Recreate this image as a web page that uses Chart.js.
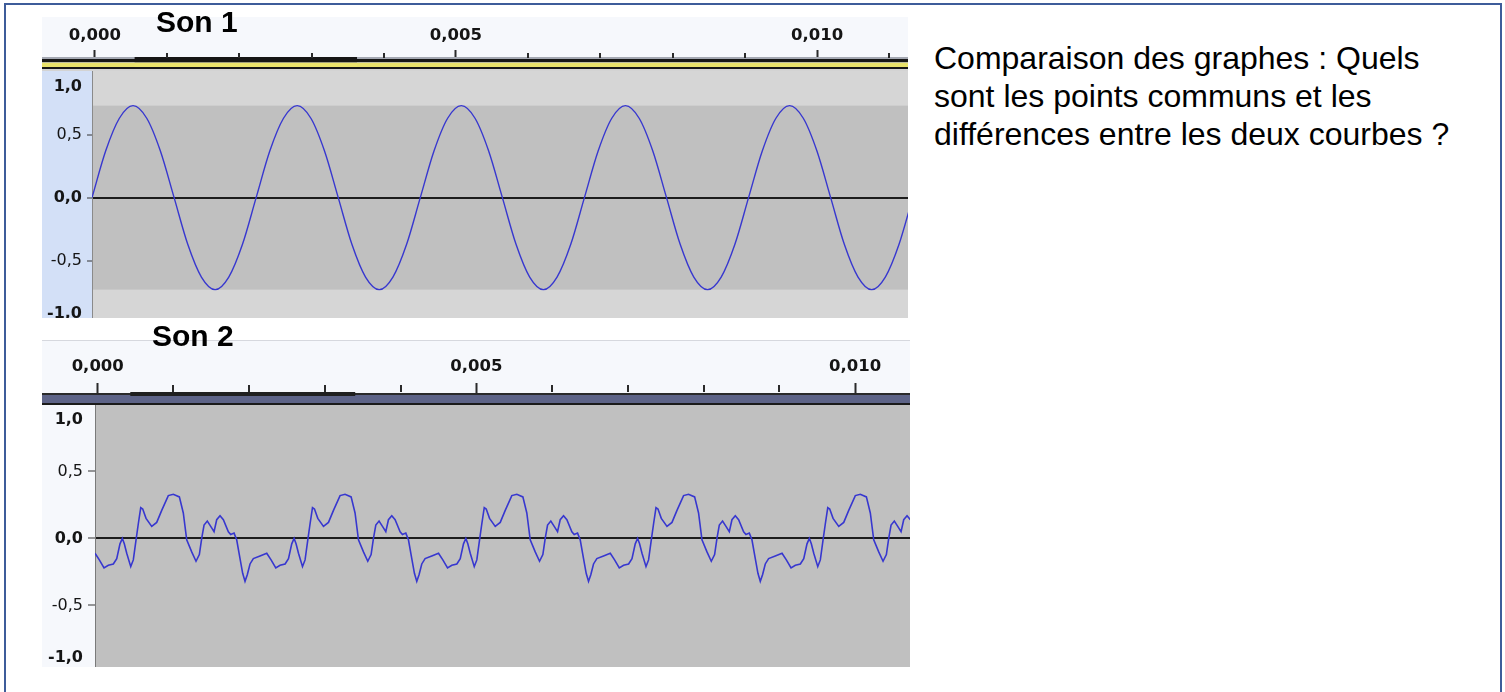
<!DOCTYPE html>
<html><head><meta charset="utf-8">
<script src="https://cdn.jsdelivr.net/npm/chart.js@4.4.1/dist/chart.umd.min.js"></script>
<style>
html,body{margin:0;padding:0;background:#fff;width:1505px;height:692px;overflow:hidden;position:relative;}
#frame{position:absolute;left:4px;top:3px;width:1494px;height:720px;border:2px solid #3e5c9a;box-sizing:content-box;}
canvas{position:absolute;display:block;}
#c1{left:42px;top:17px;}
#c2{left:42px;top:340px;}
.title{position:absolute;font-family:'Liberation Sans',Arial,sans-serif;font-weight:bold;font-size:30px;line-height:30px;color:#000;white-space:nowrap;}
#t1{left:156px;top:7px;}
#t2{left:152px;top:321px;}
#q{position:absolute;left:934px;top:39px;font-family:'Liberation Sans',Arial,sans-serif;font-size:32px;line-height:38px;color:#000;white-space:nowrap;}
</style>
</head><body>
<div id="frame"></div>
<canvas id="c1" width="866" height="301"></canvas>
<canvas id="c2" width="868" height="327"></canvas>
<div class="title" id="t1">Son 1</div>
<div class="title" id="t2">Son 2</div>
<div id="q">Comparaison des graphes : Quels<br>sont les points communs et les<br>différences entre les deux courbes ?</div>
<script>
// ---------------- DATA (time in ms, amplitude -1..1) ----------------
const son1TimeMs = [-0.040, 0.149, 0.339, 0.528, 0.718, 0.907, 1.097, 1.286, 1.475, 1.665, 1.854, 2.044,
  2.233, 2.422, 2.612, 2.801, 2.991, 3.180, 3.370, 3.559, 3.748, 3.938, 4.127, 4.317,
  4.506, 4.696, 4.885, 5.074, 5.264, 5.453, 5.643, 5.832, 6.021, 6.211, 6.400, 6.590,
  6.779, 6.969, 7.158, 7.347, 7.537, 7.726, 7.916, 8.105, 8.294, 8.484, 8.673, 8.863,
  9.052, 9.242, 9.431, 9.620, 9.810, 9.999, 10.189, 10.378, 10.568, 10.757, 10.946, 11.136,
  11.325];
const son1Amp = [0.00, 0.37, 0.63, 0.73, 0.63, 0.37, 0.00, -0.37, -0.63, -0.73, -0.63, -0.37,
  0.00, 0.37, 0.63, 0.73, 0.63, 0.37, 0.00, -0.37, -0.63, -0.73, -0.63, -0.37,
  0.00, 0.37, 0.63, 0.73, 0.63, 0.37, 0.00, -0.37, -0.63, -0.73, -0.63, -0.37,
  0.00, 0.37, 0.63, 0.73, 0.63, 0.37, 0.00, -0.37, -0.63, -0.73, -0.63, -0.37,
  0.00, 0.37, 0.63, 0.73, 0.63, 0.37, 0.00, -0.37, -0.63, -0.73, -0.63, -0.37,
  0.00];

const son2TimeMs = [
  -0.036, 0.021, 0.083, 0.140, 0.206, 0.251, 0.294, 0.325, 0.351, 0.383, 0.436, 0.470, 0.506, 0.536, 0.568, 0.594, 0.638, 0.713, 0.779, 0.845, 0.932, 0.998, 1.078, 1.130, 1.175, 1.241, 1.298, 1.342, 1.373, 1.404, 1.447, 1.492, 1.536, 1.571, 1.615, 1.659, 1.725, 1.756, 1.800, 1.835, 1.879, 1.914, 1.945, 1.975, 2.011, 2.055, 2.143,
  2.232, 2.289, 2.351, 2.408, 2.474, 2.519, 2.562, 2.593, 2.619, 2.651, 2.704, 2.738, 2.774, 2.804, 2.836, 2.862, 2.906, 2.981, 3.047, 3.113, 3.200, 3.266, 3.346, 3.398, 3.443, 3.509, 3.566, 3.610, 3.641, 3.672, 3.715, 3.760, 3.804, 3.839, 3.883, 3.927, 3.993, 4.024, 4.068, 4.103, 4.147, 4.182, 4.213, 4.243, 4.279, 4.323, 4.411,
  4.500, 4.557, 4.619, 4.676, 4.742, 4.787, 4.830, 4.861, 4.887, 4.919, 4.972, 5.006, 5.042, 5.072, 5.104, 5.130, 5.174, 5.249, 5.315, 5.381, 5.468, 5.534, 5.614, 5.666, 5.711, 5.777, 5.834, 5.878, 5.909, 5.940, 5.983, 6.028, 6.072, 6.107, 6.151, 6.195, 6.261, 6.292, 6.336, 6.371, 6.415, 6.450, 6.481, 6.511, 6.547, 6.591, 6.679,
  6.768, 6.825, 6.887, 6.944, 7.010, 7.055, 7.098, 7.129, 7.155, 7.187, 7.240, 7.274, 7.310, 7.340, 7.372, 7.398, 7.442, 7.517, 7.583, 7.649, 7.736, 7.802, 7.882, 7.934, 7.979, 8.045, 8.102, 8.146, 8.177, 8.208, 8.251, 8.296, 8.340, 8.375, 8.419, 8.463, 8.529, 8.560, 8.604, 8.639, 8.683, 8.718, 8.749, 8.779, 8.815, 8.859, 8.947,
  9.036, 9.093, 9.155, 9.212, 9.278, 9.323, 9.366, 9.397, 9.423, 9.455, 9.508, 9.542, 9.578, 9.608, 9.640, 9.666, 9.710, 9.785, 9.851, 9.917, 10.004, 10.070, 10.150, 10.202, 10.247, 10.313, 10.370, 10.414, 10.445, 10.476, 10.519, 10.564, 10.608, 10.643, 10.687, 10.731, 10.797];
const son2Amp = [
  -0.11, -0.16, -0.22, -0.20, -0.19, -0.15, -0.04, 0.00, -0.04, -0.11, -0.21, -0.16, -0.01, 0.11, 0.23, 0.22, 0.15, 0.09, 0.12, 0.21, 0.32, 0.33, 0.31, 0.19, -0.01, -0.10, -0.17, -0.12, 0.00, 0.10, 0.13, 0.09, 0.05, 0.14, 0.17, 0.14, 0.05, 0.03, 0.04, -0.01, -0.15, -0.26, -0.32, -0.27, -0.19, -0.15, -0.13,
  -0.11, -0.16, -0.22, -0.20, -0.19, -0.15, -0.04, 0.00, -0.04, -0.11, -0.21, -0.16, -0.01, 0.11, 0.23, 0.22, 0.15, 0.09, 0.12, 0.21, 0.32, 0.33, 0.31, 0.19, -0.01, -0.10, -0.17, -0.12, 0.00, 0.10, 0.13, 0.09, 0.05, 0.14, 0.17, 0.14, 0.05, 0.03, 0.04, -0.01, -0.15, -0.26, -0.32, -0.27, -0.19, -0.15, -0.13,
  -0.11, -0.16, -0.22, -0.20, -0.19, -0.15, -0.04, 0.00, -0.04, -0.11, -0.21, -0.16, -0.01, 0.11, 0.23, 0.22, 0.15, 0.09, 0.12, 0.21, 0.32, 0.33, 0.31, 0.19, -0.01, -0.10, -0.17, -0.12, 0.00, 0.10, 0.13, 0.09, 0.05, 0.14, 0.17, 0.14, 0.05, 0.03, 0.04, -0.01, -0.15, -0.26, -0.32, -0.27, -0.19, -0.15, -0.13,
  -0.11, -0.16, -0.22, -0.20, -0.19, -0.15, -0.04, 0.00, -0.04, -0.11, -0.21, -0.16, -0.01, 0.11, 0.23, 0.22, 0.15, 0.09, 0.12, 0.21, 0.32, 0.33, 0.31, 0.19, -0.01, -0.10, -0.17, -0.12, 0.00, 0.10, 0.13, 0.09, 0.05, 0.14, 0.17, 0.14, 0.05, 0.03, 0.04, -0.01, -0.15, -0.26, -0.32, -0.27, -0.19, -0.15, -0.13,
  -0.11, -0.16, -0.22, -0.20, -0.19, -0.15, -0.04, 0.00, -0.04, -0.11, -0.21, -0.16, -0.01, 0.11, 0.23, 0.22, 0.15, 0.09, 0.12, 0.21, 0.32, 0.33, 0.31, 0.19, -0.01, -0.10, -0.17, -0.12, 0.00, 0.10, 0.13, 0.09, 0.05, 0.14, 0.17, 0.14, 0.05];

const son1TicksMs = [0, 1, 2, 3, 4, 5, 6, 7, 8, 9, 10, 11];
const son2TicksMs = [0, 1, 2, 3, 4, 5, 6, 7, 8, 9, 10];
const ampTicks = [1, 0.5, 0, -0.5, -1];
const ampLabels = ['1,0', '0,5', '0,0', '-0,5', '-1,0'];
const son1Peak = 0.73;              // amplitude envelope shown as darker band
const son1SelectionMs = [0.55, 3.63];
const son2SelectionMs = [0.43, 3.40];

// ---------------- rendering ----------------
const fmtSec = v => (v / 1000).toFixed(3).replace('.', ',');
const TRANSP = 'rgba(0,0,0,0)';

const decorPlugin = {
  id: 'panelDecor',
  beforeDraw(chart, args, o) {
    const {ctx, chartArea: a, scales: {x, y}} = chart;
    ctx.save();
    ctx.fillStyle = o.rulerBg; ctx.fillRect(0, 0, chart.width, a.top);
    if (o.topLine) { ctx.fillStyle = o.topLine; ctx.fillRect(0, 0, chart.width, 1); }
    ctx.fillStyle = o.axisBg; ctx.fillRect(0, a.top, a.left, chart.height - a.top);
    ctx.fillStyle = o.plotBg; ctx.fillRect(a.left, a.top, a.right - a.left, a.bottom - a.top);
    if (o.band) {
      const y1 = y.getPixelForValue(o.band), y2 = y.getPixelForValue(-o.band);
      ctx.fillStyle = o.bandBg; ctx.fillRect(a.left, y1, a.right - a.left, y2 - y1);
    }
    ctx.restore();
    const items = y.getLabelItems();
    items.forEach(it => {
      if (it._shifted) return;
      if (it.label === '1,0') it.options.translation[1] += o.topLabelShift;
      else if (it.label === '-1,0') it.options.translation[1] += o.bottomLabelShift;
      it._shifted = true;
    });
  },
  afterDraw(chart, args, o) {
    const {ctx, scales: {x}} = chart;
    ctx.save();
    o.bar.forEach(s => { ctx.fillStyle = s.c; ctx.fillRect(0, s.y, chart.width, s.h); });
    const sx1 = x.getPixelForValue(o.sel[0]), sx2 = x.getPixelForValue(o.sel[1]);
    o.selBar.forEach(s => { ctx.fillStyle = s.c; ctx.fillRect(sx1, s.y, sx2 - sx1, s.h); });
    ctx.strokeStyle = '#2a2a2a'; ctx.lineWidth = 2;
    x.ticks.forEach(t => {
      if (t.value % 5 === 0) return;
      const px = Math.round(x.getPixelForValue(t.value));
      ctx.beginPath(); ctx.moveTo(px, o.minorTick[0]); ctx.lineTo(px, o.minorTick[1]); ctx.stroke();
    });
    ctx.restore();
  }
};

function makeChart(id, cfg) {
  const pts = cfg.t.map((t, i) => ({x: t, y: cfg.a[i]}));
  return new Chart(document.getElementById(id), {
    type: 'line',
    data: {datasets: [{
      data: pts, borderColor: '#3737cf', borderWidth: cfg.lw, pointRadius: 0, fill: false,
      tension: 0, cubicInterpolationMode: cfg.mono ? 'monotone' : 'default', clip: 0
    }]},
    options: {
      responsive: false, animation: false, events: [],
      layout: {padding: 0, autoPadding: false},
      plugins: {legend: {display: false}, tooltip: {enabled: false}, panelDecor: cfg.decor},
      scales: {
        x: {
          type: 'linear', position: 'top', min: cfg.xMin, max: cfg.xMax,
          afterBuildTicks: s => { s.ticks = cfg.xTicks.map(v => ({value: v})); },
          afterFit: s => { s.height = cfg.rulerH; s.paddingLeft = 0; s.paddingRight = 0; },
          ticks: {
            autoSkip: false, maxRotation: 0, minRotation: 0, padding: cfg.xLabelPad, color: '#151515',
            font: {family: 'DejaVu Sans', size: 16.5, weight: 'bold'},
            callback: v => (v % 5 === 0 ? fmtSec(v) : '')
          },
          grid: {
            drawOnChartArea: false, drawTicks: true, tickLength: cfg.majorTickLen, tickWidth: 2,
            tickColor: c => (c.tick && c.tick.value % 5 === 0) ? '#2a2a2a' : TRANSP
          },
          border: {display: false}
        },
        y: {
          type: 'linear', position: 'left', min: cfg.yMin, max: cfg.yMax,
          afterBuildTicks: s => { s.ticks = ampTicks.map(v => ({value: v})); },
          afterFit: s => { s.width = cfg.yAxisW; s.paddingTop = 0; s.paddingBottom = 0; },
          ticks: {
            autoSkip: false, padding: cfg.yLabelPad, color: '#151515',
            font: c => ({family: 'DejaVu Sans', size: 16,
              weight: (c.tick && Number.isInteger(c.tick.value)) ? 'bold' : 'normal'}),
            callback: v => ampLabels[ampTicks.indexOf(v)]
          },
          grid: {
            drawOnChartArea: true, drawTicks: true, tickLength: cfg.yTickLen, lineWidth: 2, tickWidth: 1,
            color: c => (c.tick && c.tick.value === 0) ? '#1c1c1c' : TRANSP,
            tickColor: c => (c.tick && Math.abs(c.tick.value) === 1) ? TRANSP : '#333'
          },
          border: {display: true, color: cfg.axisLine, width: 1}
        }
      }
    },
    plugins: [decorPlugin]
  });
}

makeChart('c1', {
  t: son1TimeMs, a: son1Amp, mono: true, lw: 1.4,
  xTicks: son1TicksMs, xMin: -0.04, xMax: 11.26, yMin: -0.955, yMax: 1.005,
  rulerH: 54, yAxisW: 50, majorTickLen: 21, xLabelPad: 4, yLabelPad: 5, yTickLen: 5, axisLine: '#8a8a8a',
  decor: {
    rulerBg: '#f6f8fc', axisBg: '#d3e0f7', plotBg: '#d6d6d6', band: son1Peak, bandBg: '#c0c0c0',
    topLabelShift: 15, bottomLabelShift: -10,
    bar: [{y: 40, h: 2, c: '#a4a8b2'}, {y: 42, h: 3, c: '#161616'}, {y: 45, h: 1, c: '#bdbc9e'},
          {y: 46, h: 4, c: '#e8e16a'}, {y: 50, h: 2, c: '#161616'}, {y: 52, h: 2, c: '#d3d3d3'}],
    sel: son1SelectionMs,
    selBar: [{y: 40, h: 5, c: '#161616'}, {y: 45, h: 1, c: '#a09e7c'}, {y: 46, h: 4, c: '#ebe46c'}],
    minorTick: [36, 41]
  }
});

makeChart('c2', {
  t: son2TimeMs, a: son2Amp, mono: false, lw: 1.6,
  xTicks: son2TicksMs, xMin: -0.036, xMax: 10.726, yMin: -0.959, yMax: 0.996,
  rulerH: 65, yAxisW: 53, majorTickLen: 22, xLabelPad: 6, yLabelPad: 5, yTickLen: 7, axisLine: '#7a7a7a',
  decor: {
    rulerBg: '#f6f8fc', topLine: '#d6d8de', axisBg: '#f6f8fc', plotBg: '#c0c0c0', band: null,
    topLabelShift: 15.5, bottomLabelShift: -14.5,
    bar: [{y: 53, h: 2, c: '#2a2a2a'}, {y: 55, h: 8, c: '#5d6387'}, {y: 63, h: 2, c: '#1a1a1a'}],
    sel: son2SelectionMs,
    selBar: [{y: 52, h: 4, c: '#1f1f1f'}],
    minorTick: [45, 52]
  }
});
</script>
</body></html>
